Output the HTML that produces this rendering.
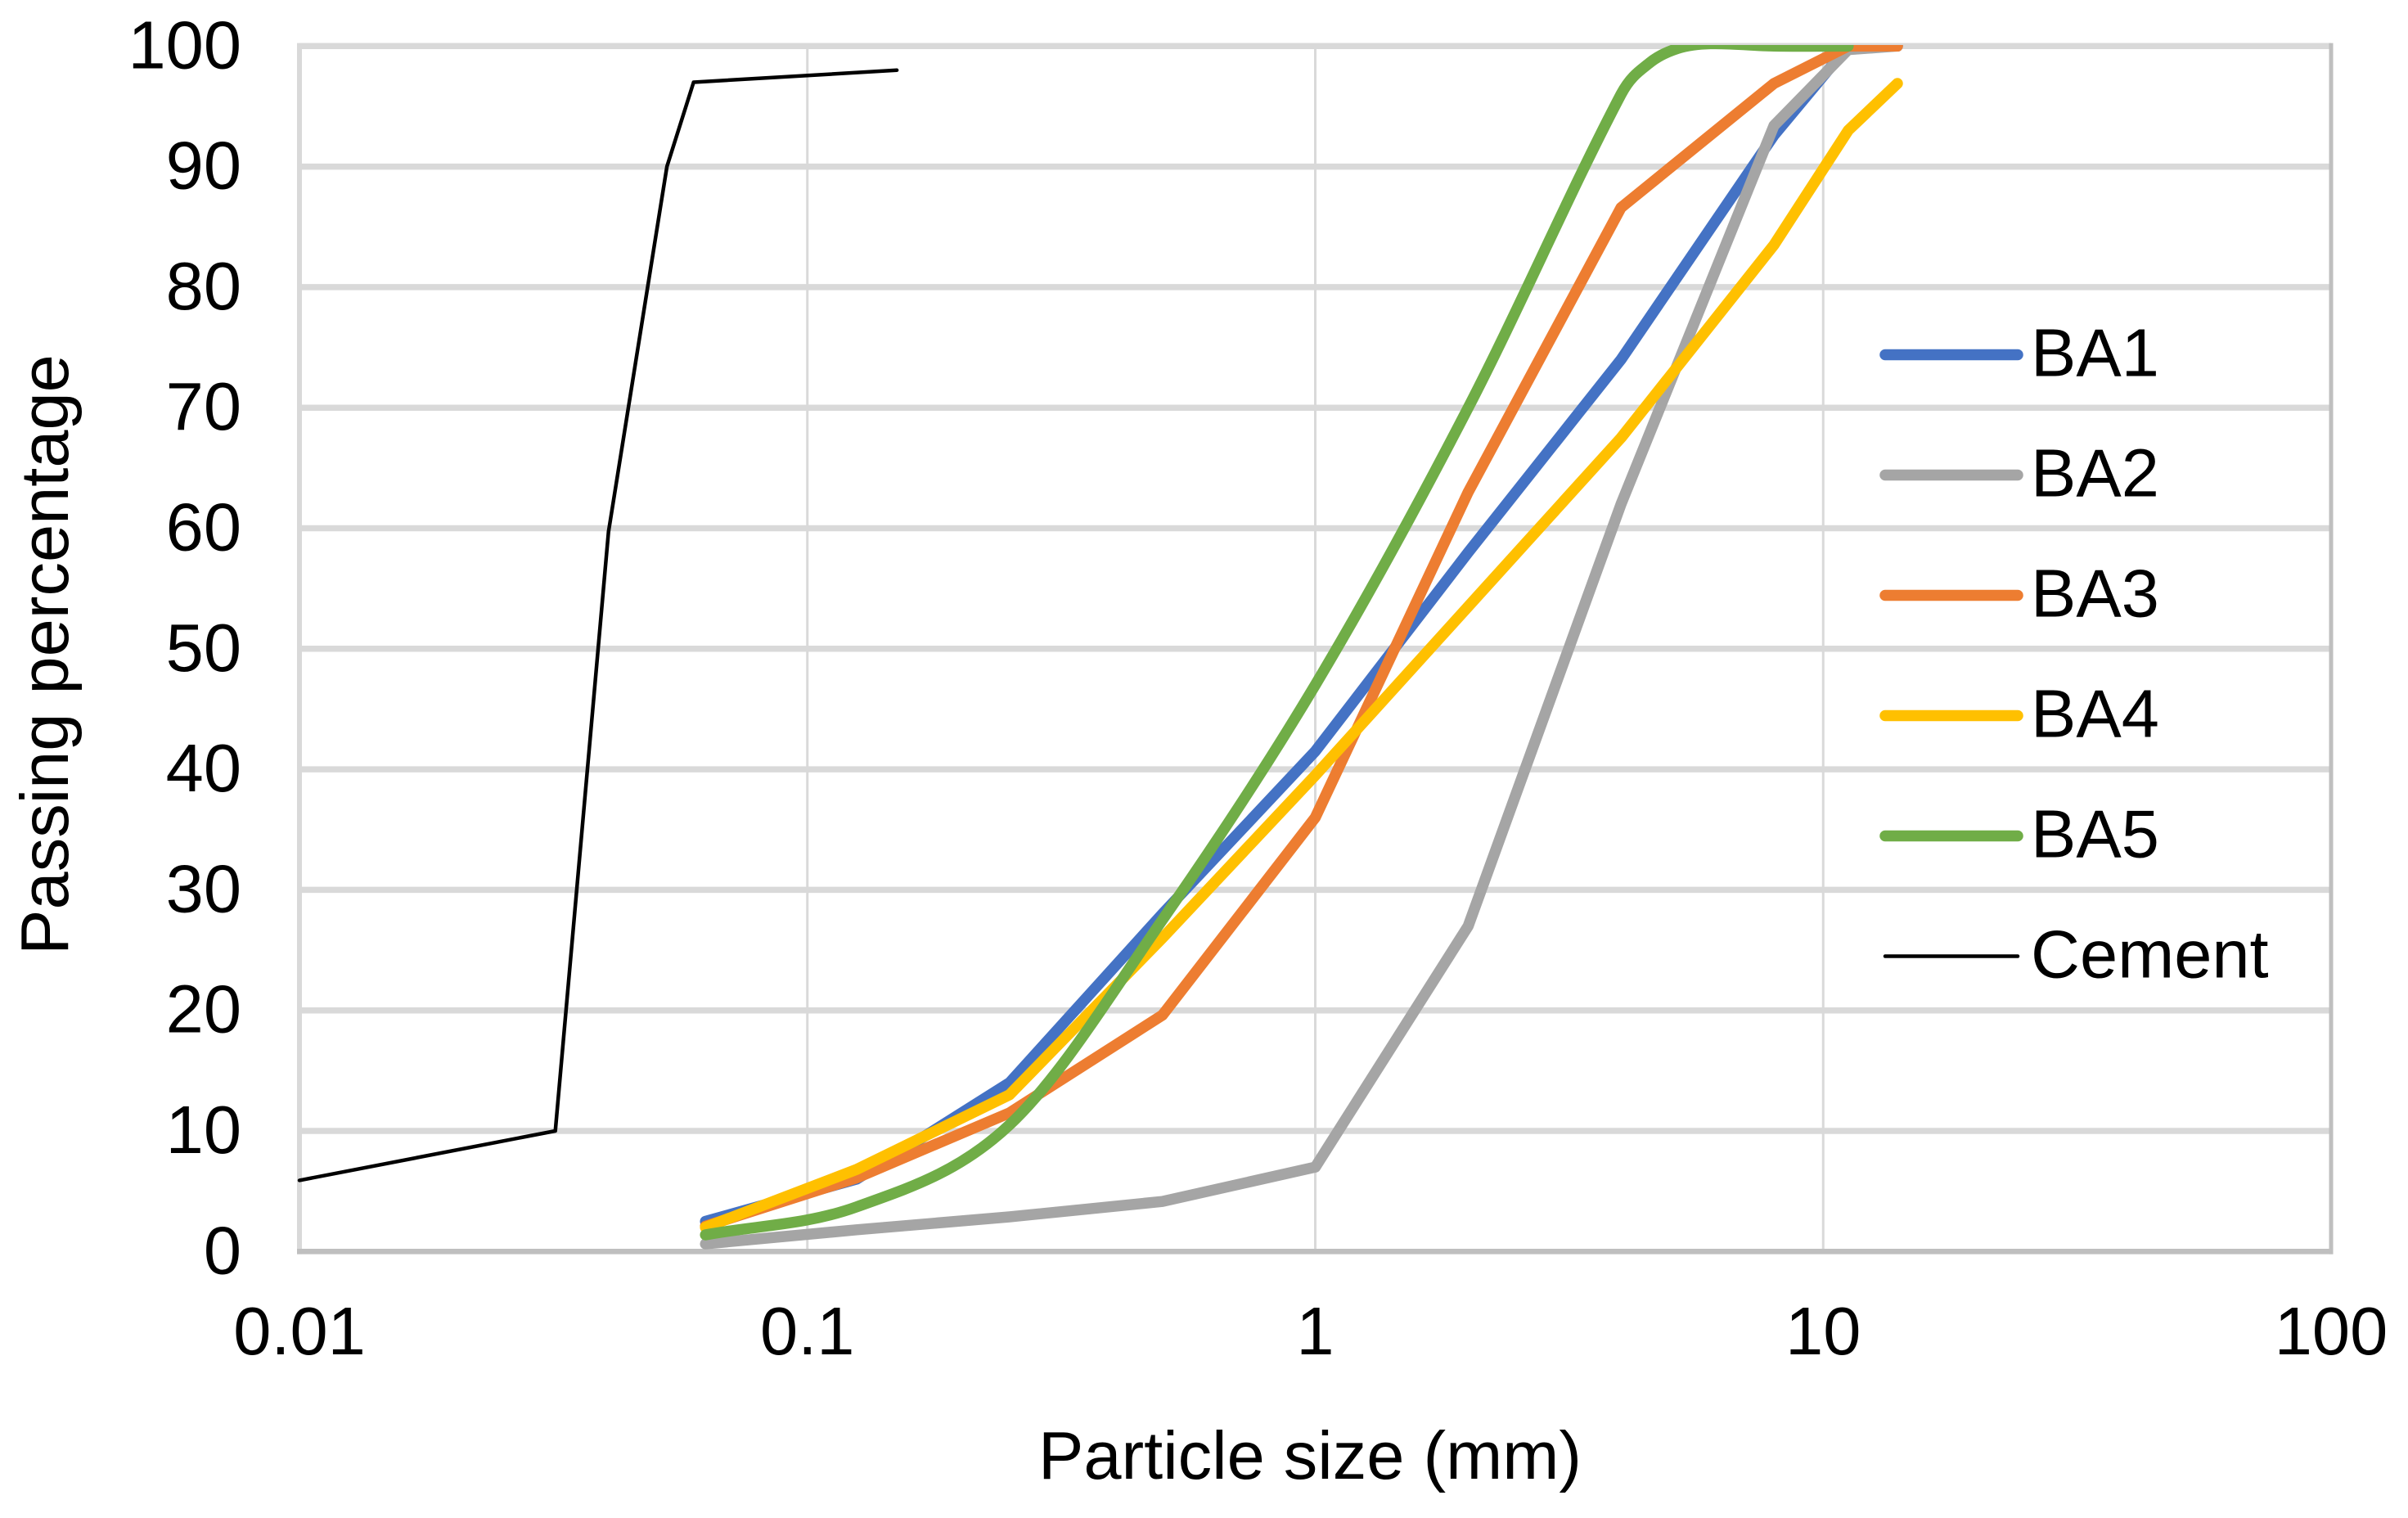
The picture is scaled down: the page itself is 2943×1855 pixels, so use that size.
<!DOCTYPE html>
<html lang="en">
<head>
<meta charset="utf-8">
<title>Particle size distribution</title>
<style>
html,body{margin:0;padding:0;background:#fff;}
svg{display:block;}
text{font-family:"Liberation Sans",Arial,sans-serif;fill:#000;font-size:83px;}
</style>
</head>
<body>
<svg id="chart" xmlns="http://www.w3.org/2000/svg" width="2943" height="1855" viewBox="0 0 2943 1855">
  <rect x="0" y="0" width="2943" height="1855" fill="#ffffff"/>
  <defs>
    <clipPath id="plot-clip"><rect x="360" y="55" width="2500" height="1480"/></clipPath>
  </defs>
  <g id="grid"></g>
  <g id="axes"></g>
  <g id="series" clip-path="url(#plot-clip)"></g>
  <g id="ticks"></g>
  <g id="legend"></g>
  <text x="1601" y="1807" text-anchor="middle">Particle size (mm)</text>
  <text transform="translate(83,800) rotate(-90)" text-anchor="middle">Passing percentage</text>
</svg>
<script>
const xTicks = [0.01, 0.1, 1, 10, 100];
const yTicks = [0, 10, 20, 30, 40, 50, 60, 70, 80, 90, 100];
const sieveSizes = [0.063, 0.125, 0.25, 0.5, 1, 2, 4, 8, 11.2, 14];
const ba1Values = [2.5, 6, 14, 28, 41.5, 58, 74, 92.6, 100, 100];
const ba2Values = [0.63, 1.8, 2.87, 4.15, 7, 27, 62, 93.4, 99.7, 100];
const ba3Values = [2.1, 6.1, 11.5, 19.6, 36, 63, 86.6, 96.9, 100, 100];
const ba4Values = [2, 6.8, 13, 26, 39.5, 53.5, 67.5, 83.5, 93, 96.9];
const ba5Sizes = [0.063, 0.125, 0.25, 0.5, 1, 2, 4, 4.55, 5.17, 6, 8, 11.2];
const ba5Values = [1.38, 3.7, 10.5, 27.5, 47, 70, 96, 98.6, 99.8, 100.2, 100, 100];
const cementSizes = [0.01, 0.0319, 0.0406, 0.0529, 0.0597, 0.15];
const cementValues = [5.9, 10, 59.7, 90, 97, 98];
const seriesNames = ["BA1", "BA2", "BA3", "BA4", "BA5", "Cement"];

const NS = "http://www.w3.org/2000/svg";
const plotLeft = 366, plotRight = 2849, plotTop = 56.3, plotBottom = 1529.3;
function xScale(v) {
  const lo = Math.log10(xTicks[0]), hi = Math.log10(xTicks[xTicks.length - 1]);
  return plotLeft + (Math.log10(v) - lo) / (hi - lo) * (plotRight - plotLeft);
}
function yScale(v) {
  return plotBottom - v / 100 * (plotBottom - plotTop);
}
function make(tag, attrs, parent) {
  const el = document.createElementNS(NS, tag);
  for (const k in attrs) el.setAttribute(k, attrs[k]);
  parent.appendChild(el);
  return el;
}
function linePath(xs, ys) {
  return xs.map((x, i) => (i ? "L" : "M") + xScale(x).toFixed(1) + " " + yScale(ys[i]).toFixed(1)).join(" ");
}
function smoothPath(xs, ys) {
  const p = xs.map((x, i) => [xScale(x), yScale(ys[i])]);
  const n = p.length;
  const m = p.map(function (pt, i) {
    const a = p[Math.max(i - 1, 0)], c = p[Math.min(i + 1, n - 1)];
    return (c[1] - a[1]) / (c[0] - a[0]);
  });
  let d = "M" + p[0][0].toFixed(1) + " " + p[0][1].toFixed(1);
  for (let i = 0; i < n - 1; i++) {
    const h = (p[i + 1][0] - p[i][0]) / 3;
    d += " C" + (p[i][0] + h).toFixed(1) + " " + (p[i][1] + m[i] * h).toFixed(1) +
         " " + (p[i + 1][0] - h).toFixed(1) + " " + (p[i + 1][1] - m[i + 1] * h).toFixed(1) +
         " " + p[i + 1][0].toFixed(1) + " " + p[i + 1][1].toFixed(1);
  }
  return d;
}

const gridG = document.getElementById("grid");
const axesG = document.getElementById("axes");
const seriesG = document.getElementById("series");
const ticksG = document.getElementById("ticks");
const legendG = document.getElementById("legend");

xTicks.slice(1, -1).forEach(function (t) {
  const vLine = make("line", { x1: xScale(t), x2: xScale(t), y1: plotTop, y2: plotBottom, stroke: "#d9d9d9", "stroke-width": 3 }, gridG);
  
  
});
yTicks.slice(1).forEach(function (t) {
  const hLine = make("line", { x1: plotLeft, x2: plotRight, y1: yScale(t), y2: yScale(t), stroke: "#d9d9d9", "stroke-width": 7.5 }, gridG);
  
  
});

const leftAxis = make("line", { x1: plotLeft, x2: plotLeft, y1: plotTop - 3.7, y2: plotBottom + 3.3, stroke: "#d9d9d9", "stroke-width": 6 }, axesG);


const rightAxis = make("line", { x1: plotRight, x2: plotRight, y1: plotTop - 3.7, y2: plotBottom + 3.3, stroke: "#bfbfbf", "stroke-width": 5 }, axesG);


const bottomAxis = make("line", { x1: plotLeft - 3, x2: plotRight + 2.5, y1: plotBottom, y2: plotBottom, stroke: "#bfbfbf", "stroke-width": 6.7 }, axesG);



xTicks.forEach(function (t) {
  const lab = make("text", { x: xScale(t), y: 1655, "text-anchor": "middle" }, ticksG);
  
  
  lab.textContent = String(t);
});
yTicks.forEach(function (t) {
  const lab = make("text", { x: 295, y: yScale(t) + 27, "text-anchor": "end" }, ticksG);
  
  
  lab.textContent = String(t);
});

const seriesDraw = [
  [sieveSizes, ba1Values, "#4472c4", 13.5, false],
  [sieveSizes, ba2Values, "#a5a5a5", 13.5, false],
  [sieveSizes, ba3Values, "#ed7d31", 13.5, false],
  [sieveSizes, ba4Values, "#ffc000", 13.5, false],
  [ba5Sizes, ba5Values, "#70ad47", 13.5, true],
  [cementSizes, cementValues, "#000000", 4.5, false]
];
seriesDraw.forEach(function (s, i) {
  const path = make("path", {
    d: s[4] ? smoothPath(s[0], s[1]) : linePath(s[0], s[1]),
    fill: "none", stroke: s[2], "stroke-width": s[3],
    "stroke-linecap": "round", "stroke-linejoin": "round"
  }, seriesG);
  
  

  const ly = 433.5 + i * 147;
  const key = make("line", {
    x1: 2304, x2: 2466, y1: ly, y2: ly, stroke: s[2], "stroke-width": s[3],
    "stroke-linecap": "round"
  }, legendG);
  
  
  const label = make("text", { x: 2482, y: ly + 26 }, legendG);
  
  
  label.textContent = seriesNames[i];
});
</script>
</body>
</html>
